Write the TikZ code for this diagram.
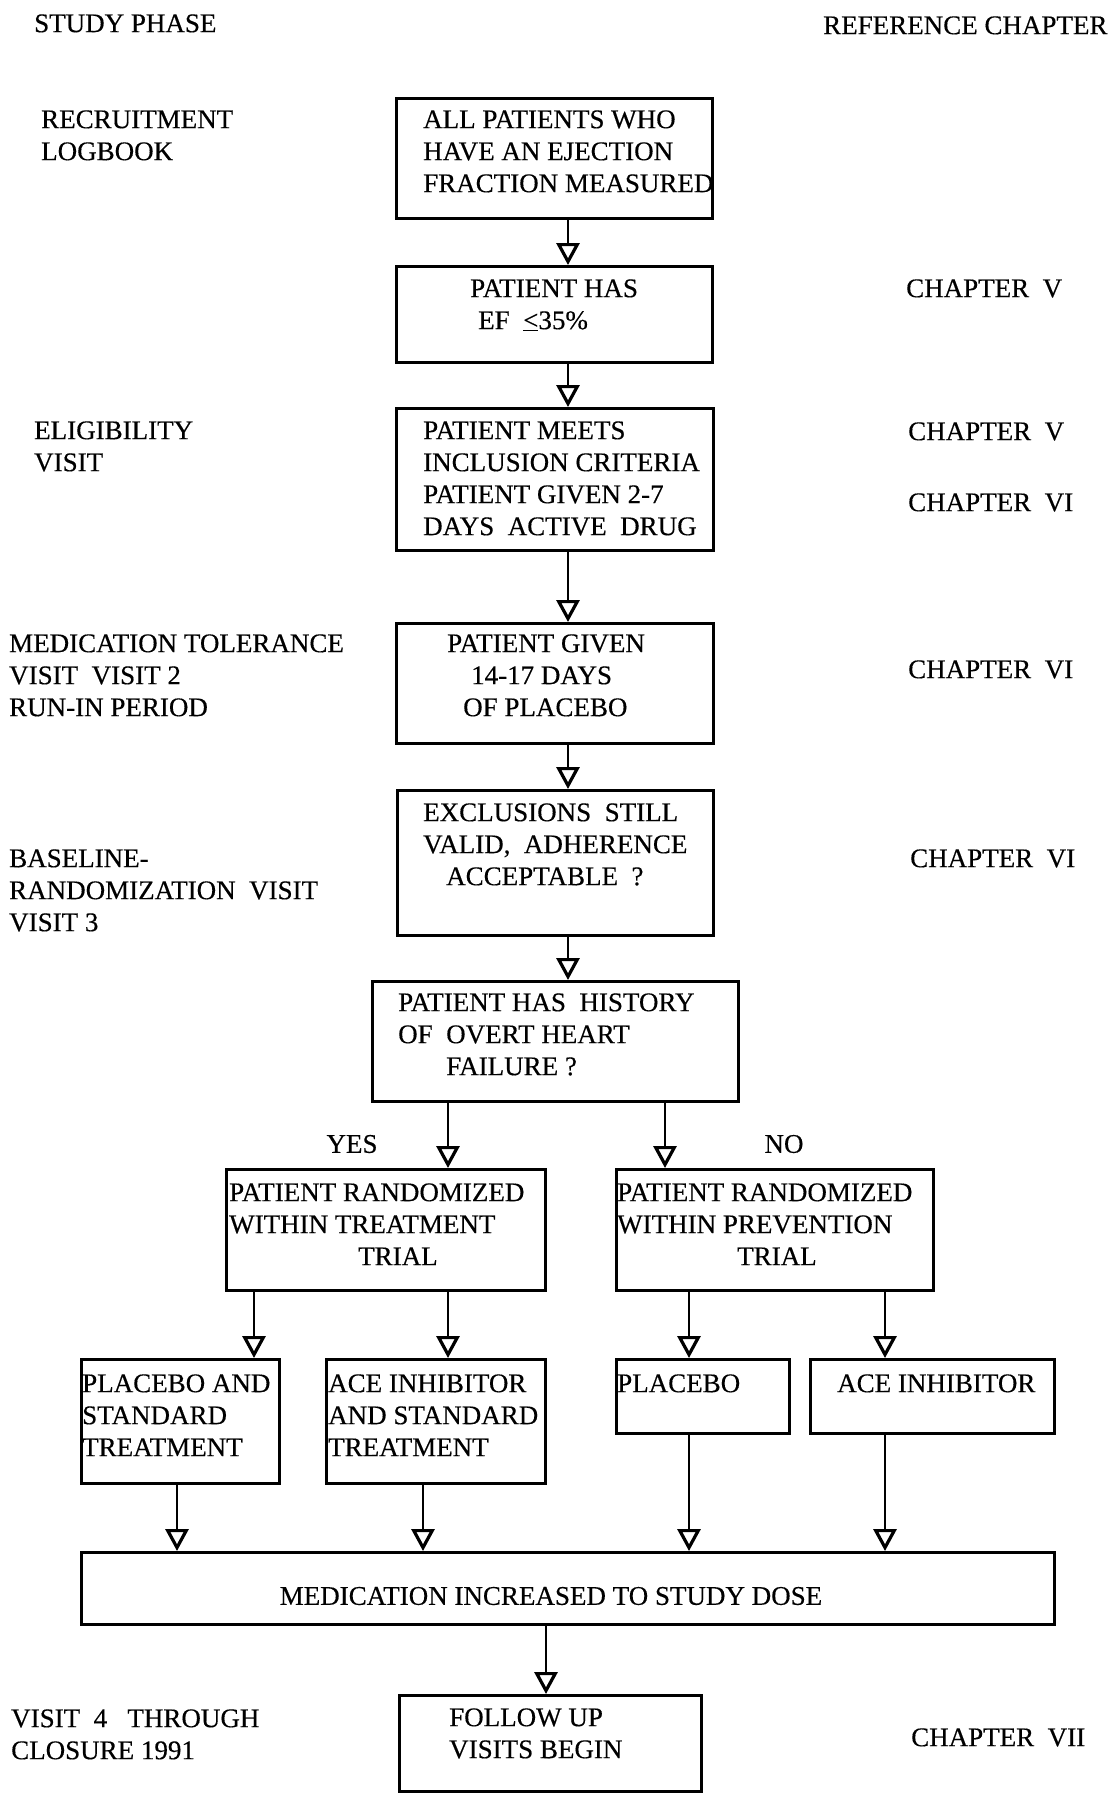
\documentclass[tikz,border=0pt]{standalone}
\usepackage{fontspec}
\setmainfont{Liberation Serif}[FakeBold=0.35]
\usetikzlibrary{arrows.meta}
\begin{document}
\begin{tikzpicture}[x=1pt,y=-1pt,
  box/.style={draw, line width=3pt, anchor=north west, inner sep=0pt},
  txt/.style={anchor=north west, inner sep=0pt, align=left, font=\fontsize{27}{32}\selectfont},
  arr/.style={line width=2.2pt, -{Triangle[open, length=22pt, width=23pt, line width=3.2pt]}}]
\useasboundingbox (0,0) rectangle (1111,1793);

% headers
\node[txt] (hphase) at (34,14.1) {STUDY PHASE};
\node[txt] (hchap) at (823,16.1) {REFERENCE CHAPTER};

% boxes
\node[box, minimum width=316pt, minimum height=120pt] (b1) at (395,97) {};
\node[box, minimum width=316pt, minimum height=96pt] (b2) at (395,265) {};
\node[box, minimum width=317pt, minimum height=142pt] (b3) at (395,407) {};
\node[box, minimum width=317pt, minimum height=120pt] (b4) at (395,622) {};
\node[box, minimum width=316pt, minimum height=145pt] (b5) at (396,789) {};
\node[box, minimum width=366pt, minimum height=120pt] (b6) at (371,980) {};
\node[box, minimum width=319pt, minimum height=121pt] (b7) at (225,1168) {};
\node[box, minimum width=317pt, minimum height=121pt] (b8) at (615,1168) {};
\node[box, minimum width=198pt, minimum height=124pt] (b9) at (80,1358) {};
\node[box, minimum width=219pt, minimum height=124pt] (b10) at (325,1358) {};
\node[box, minimum width=173pt, minimum height=74pt] (b11) at (615,1358) {};
\node[box, minimum width=244pt, minimum height=74pt] (b12) at (809,1358) {};
\node[box, minimum width=973pt, minimum height=72pt] (b13) at (80,1551) {};
\node[box, minimum width=302pt, minimum height=96pt] (b14) at (398,1694) {};

% box texts
\node[txt] (t1) at (423,110.1) {ALL PATIENTS WHO\\HAVE AN EJECTION\\FRACTION MEASURED};
\node[txt] (t2) at (470,279.1) {PATIENT HAS\\\hspace*{8pt}EF~~\underline{<}35\%};
\node[txt] (t3) at (423,421.1) {PATIENT MEETS\\INCLUSION CRITERIA\\PATIENT GIVEN 2-7\\DAYS~~ACTIVE~~DRUG};
\node[txt] (t4) at (447,634.1) {PATIENT GIVEN\\\hspace*{24pt}14-17 DAYS\\\hspace*{16pt}OF PLACEBO};
\node[txt] (t5) at (423,803.1) {EXCLUSIONS~~STILL\\VALID,~~ADHERENCE\\\hspace*{23pt}ACCEPTABLE~~?};
\node[txt] (t6) at (398,993.1) {PATIENT HAS~~HISTORY\\OF~~OVERT HEART\\\hspace*{48pt}FAILURE ?};
\node[txt] (t7) at (229,1183.1) {PATIENT RANDOMIZED\\WITHIN TREATMENT\\\hspace*{129pt}TRIAL};
\node[txt] (t8) at (617,1183.1) {PATIENT RANDOMIZED\\WITHIN PREVENTION\\\hspace*{120pt}TRIAL};
\node[txt] (t9) at (82,1374.1) {PLACEBO AND\\STANDARD\\TREATMENT};
\node[txt] (t10) at (328,1374.1) {ACE INHIBITOR\\AND STANDARD\\TREATMENT};
\node[txt] (t11) at (617,1374.1) {PLACEBO};
\node[txt] (t12) at (837,1374.1) {ACE INHIBITOR};
\node[txt, anchor=center] (t13) at (551,1596) {MEDICATION INCREASED TO STUDY DOSE};
\node[txt] (t14) at (449,1708.1) {FOLLOW UP\\VISITS BEGIN};

% branch labels
\node[txt, anchor=center] (yes) at (352,1144) {YES};
\node[txt, anchor=center] (no) at (784,1144) {NO};

% left column
\node[txt] (l1) at (41,110.1) {RECRUITMENT\\LOGBOOK};
\node[txt] (l2) at (34,421.1) {ELIGIBILITY\\VISIT};
\node[txt] (l3) at (9,634.1) {MEDICATION TOLERANCE\\VISIT~~VISIT 2\\RUN-IN PERIOD};
\node[txt] (l4) at (9,849.1) {BASELINE-\\RANDOMIZATION~~VISIT\\VISIT 3};
\node[txt] (l5) at (11,1709.1) {VISIT~~4~~~THROUGH\\CLOSURE 1991};

% right column
\node[txt] (r1) at (906,279.1) {CHAPTER~~V};
\node[txt] (r2) at (908,422.1) {CHAPTER~~V};
\node[txt] (r3) at (908,493.1) {CHAPTER~~VI};
\node[txt] (r4) at (908,660.1) {CHAPTER~~VI};
\node[txt] (r5) at (910,849.1) {CHAPTER~~VI};
\node[txt] (r6) at (911,1728.1) {CHAPTER~~VII};

% connector columns
\coordinate (cA) at (568,0);
\coordinate (cY) at (448,0);
\coordinate (cN) at (665,0);
\coordinate (cP1) at (254,0);
\coordinate (cP2) at (448,0);
\coordinate (cP3) at (689,0);
\coordinate (cP4) at (885,0);
\coordinate (cQ1) at (177,0);
\coordinate (cQ2) at (423,0);
\coordinate (cM) at (546,0);

\draw[arr] (cA |- b1.south) -- (cA |- b2.north);
\draw[arr] (cA |- b2.south) -- (cA |- b3.north);
\draw[arr] (cA |- b3.south) -- (cA |- b4.north);
\draw[arr] (cA |- b4.south) -- (cA |- b5.north);
\draw[arr] (cA |- b5.south) -- (cA |- b6.north);
\draw[arr] (cY |- b6.south) -- (cY |- b7.north);
\draw[arr] (cN |- b6.south) -- (cN |- b8.north);
\draw[arr] (cP1 |- b7.south) -- (cP1 |- b9.north);
\draw[arr] (cP2 |- b7.south) -- (cP2 |- b10.north);
\draw[arr] (cP3 |- b8.south) -- (cP3 |- b11.north);
\draw[arr] (cP4 |- b8.south) -- (cP4 |- b12.north);
\draw[arr] (cQ1 |- b9.south) -- (cQ1 |- b13.north);
\draw[arr] (cQ2 |- b10.south) -- (cQ2 |- b13.north);
\draw[arr] (cP3 |- b11.south) -- (cP3 |- b13.north);
\draw[arr] (cP4 |- b12.south) -- (cP4 |- b13.north);
\draw[arr] (cM |- b13.south) -- (cM |- b14.north);
\end{tikzpicture}
\end{document}
